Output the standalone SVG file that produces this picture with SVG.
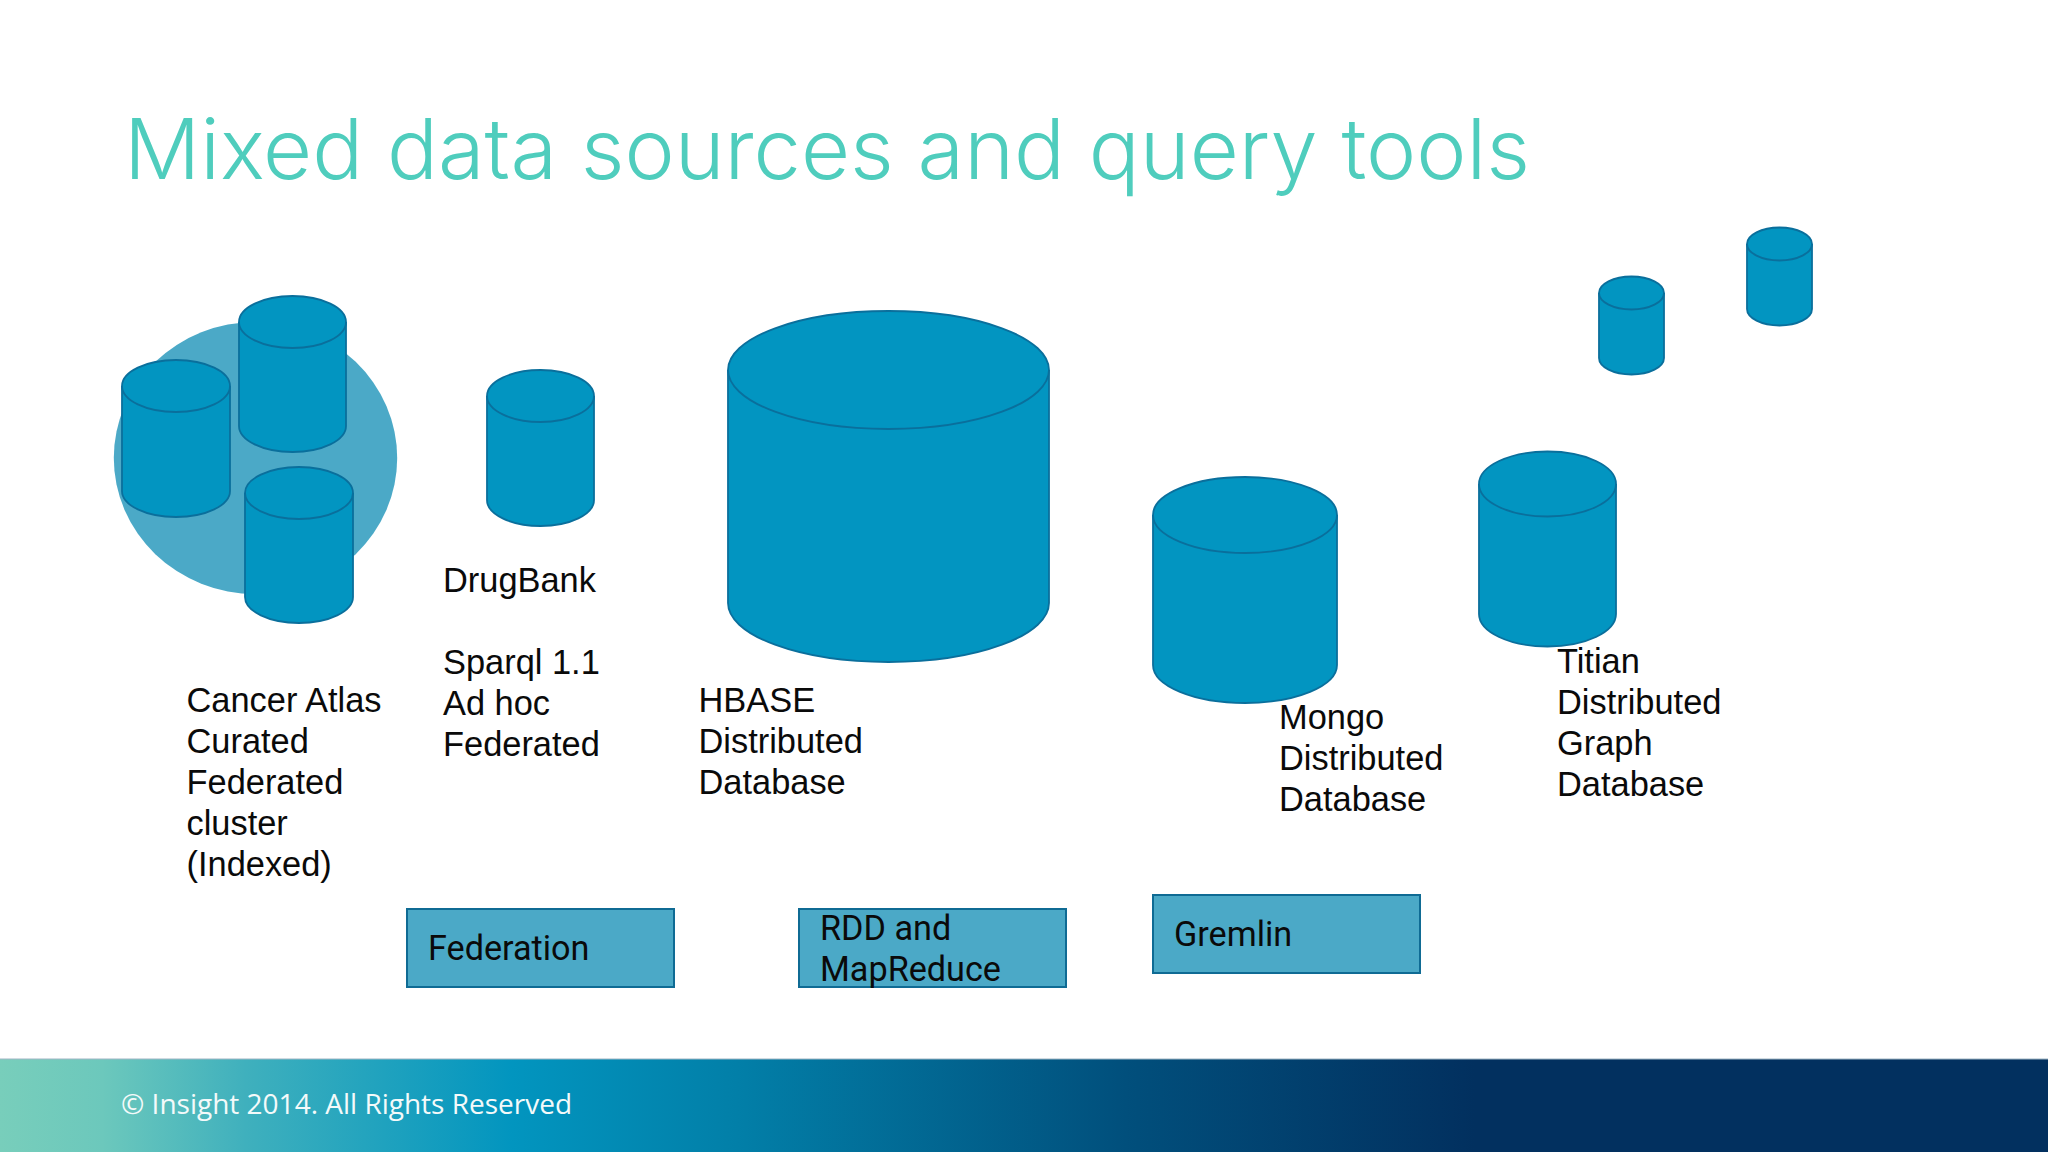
<svg xmlns="http://www.w3.org/2000/svg" width="2048" height="1152" viewBox="0 0 2048 1152">
<style>
.cyl{fill:#0295c1;stroke:#0a6f9c;stroke-width:1.8}
.box{fill:#4ba9c7;stroke:#0f6b94;stroke-width:2}
.lbl{font-family:"Liberation Sans",Arial,sans-serif;font-size:34.4px;fill:#0a0a0a}
.blbl{font-family:Roboto,"Liberation Sans",sans-serif;font-size:34.2px;fill:#0a0a0a}
</style>
<defs>
<linearGradient id="foot" x1="0" x2="1" y1="0" y2="0">
<stop offset="0" stop-color="#78cebb"/><stop offset="0.05" stop-color="#6cc8bc"/><stop offset="0.12" stop-color="#3fb0bd"/><stop offset="0.25" stop-color="#0295bf"/><stop offset="0.36" stop-color="#027fa8"/><stop offset="0.55" stop-color="#014f7c"/><stop offset="0.72" stop-color="#02305f"/><stop offset="1" stop-color="#02305f"/>
</linearGradient>
</defs>
<rect width="2048" height="1152" fill="#fff"/>
<text x="124" y="179" font-family="Inter,Lato,sans-serif" font-weight="300" font-size="84" fill="#4fcdbd" textLength="1406" lengthAdjust="spacingAndGlyphs">Mixed data sources and query tools</text>
<g id="cluster">
<ellipse cx="255.5" cy="458" rx="141.7" ry="136" fill="#4ba9c7"/>
<g id="cyl-a"><path class="cyl" d="M122 386V491A54 26 0 0 0 230 491V386A54 26 0 0 0 122 386Z"/><path class="cyl" d="M122 386A54 26 0 0 0 230 386"/></g>
<g id="cyl-b"><path class="cyl" d="M239 322V426A53.5 26 0 0 0 346 426V322A53.5 26 0 0 0 239 322Z"/><path class="cyl" d="M239 322A53.5 26 0 0 0 346 322"/></g>
<g id="cyl-c"><path class="cyl" d="M245 493V597A54 26 0 0 0 353 597V493A54 26 0 0 0 245 493Z"/><path class="cyl" d="M245 493A54 26 0 0 0 353 493"/></g>
</g>
<g id="cyl-d"><path class="cyl" d="M487 396V500A53.5 26 0 0 0 594 500V396A53.5 26 0 0 0 487 396Z"/><path class="cyl" d="M487 396A53.5 26 0 0 0 594 396"/></g>
<g id="cyl-e"><path class="cyl" d="M728 370V603A160.5 59 0 0 0 1049 603V370A160.5 59 0 0 0 728 370Z"/><path class="cyl" d="M728 370A160.5 59 0 0 0 1049 370"/></g>
<g id="cyl-f"><path class="cyl" d="M1153 515V665A92 38 0 0 0 1337 665V515A92 38 0 0 0 1153 515Z"/><path class="cyl" d="M1153 515A92 38 0 0 0 1337 515"/></g>
<g id="cyl-g"><path class="cyl" d="M1479 484V614A68.500 32.500 0 0 0 1616 614V484A68.500 32.500 0 0 0 1479 484Z"/><path class="cyl" d="M1479 484A68.500 32.500 0 0 0 1616 484"/></g>
<g id="cyl-h"><path class="cyl" d="M1599 293V358A32.500 16.500 0 0 0 1664 358V293A32.500 16.500 0 0 0 1599 293Z"/><path class="cyl" d="M1599 293A32.500 16.500 0 0 0 1664 293"/></g>
<g id="cyl-i"><path class="cyl" d="M1747 244V309A32.500 16.500 0 0 0 1812 309V244A32.500 16.500 0 0 0 1747 244Z"/><path class="cyl" d="M1747 244A32.500 16.500 0 0 0 1812 244"/></g>
<g id="connectors"/>
<text class="lbl"><tspan x="186.500" y="712">Cancer Atlas</tspan><tspan x="186.500" y="753">Curated</tspan><tspan x="186.500" y="794">Federated</tspan><tspan x="186.500" y="835">cluster</tspan><tspan x="186.500" y="876">(Indexed)</tspan></text>
<text class="lbl"><tspan x="443" y="592">DrugBank</tspan><tspan x="443" y="674">Sparql 1.1</tspan><tspan x="443" y="715">Ad hoc</tspan><tspan x="443" y="756">Federated</tspan></text>
<text class="lbl"><tspan x="698.500" y="712">HBASE</tspan><tspan x="698.500" y="753">Distributed</tspan><tspan x="698.500" y="794">Database</tspan></text>
<text class="lbl"><tspan x="1279" y="729">Mongo</tspan><tspan x="1279" y="770">Distributed</tspan><tspan x="1279" y="811">Database</tspan></text>
<text class="lbl"><tspan x="1557" y="673">Titian</tspan><tspan x="1557" y="714">Distributed</tspan><tspan x="1557" y="755">Graph</tspan><tspan x="1557" y="796">Database</tspan></text>
<g id="federation"><rect class="box" x="407" y="909" width="267" height="78"/><text class="blbl" x="428" y="960">Federation</text></g>
<g id="rdd"><rect class="box" x="799" y="909" width="267" height="78"/><text class="blbl"><tspan x="820" y="940">RDD and</tspan><tspan x="820" y="981">MapReduce</tspan></text></g>
<g id="gremlin"><rect class="box" x="1153" y="895" width="267" height="78"/><text class="blbl" x="1174" y="946">Gremlin</text></g>
<g id="footer"><rect y="1059" width="2048" height="93" fill="url(#foot)"/><rect y="1058" width="2048" height="2" fill="#9fb6c4" opacity="0.5"/><text x="121" y="1114" font-family="'Open Sans','Noto Sans',sans-serif" font-size="28" fill="#f4fafa">© Insight 2014. All Rights Reserved</text></g>
</svg>
